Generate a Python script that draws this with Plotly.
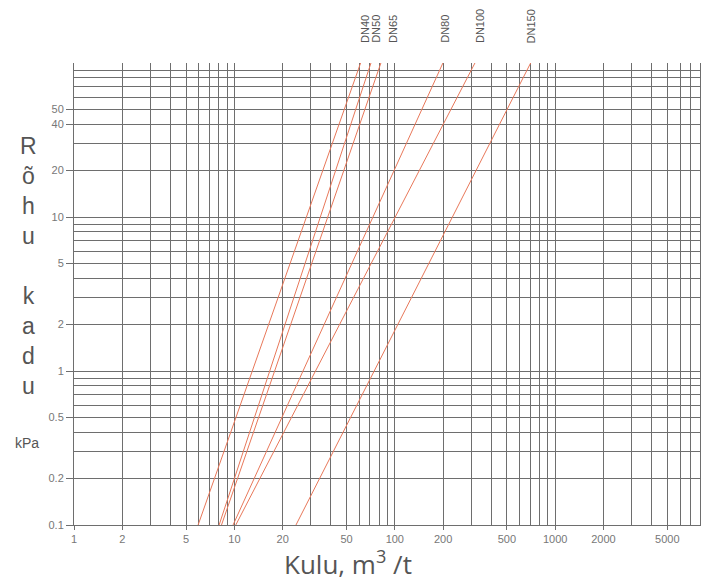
import math
import plotly.graph_objects as go

# ---- data ----
series_names = ["DN40", "DN50", "DN65", "DN80", "DN100", "DN150"]
flow_at_dp_low = [5.94, 8.03, 8.31, 9.81, 10.2, 24.2]      # m3/t at 0.1 kPa
flow_at_dp_high = [61.2, 71.0, 81.9, 199.5, 316.0, 703.0]  # m3/t at 100 kPa
dp_ends = [0.1, 100]

x_tick_vals = [1, 2, 5, 10, 20, 50, 100, 200, 500, 1000, 2000, 5000]
x_tick_text = ["1", "2", "5", "10", "20", "50", "100", "200", "500", "1000", "2000", "5000"]
y_tick_vals = [0.1, 0.2, 0.5, 1, 2, 5, 10, 20, 40, 50]
y_tick_text = ["0.1", "0.2", "0.5", "1", "2", "5", "10", "20", "40", "50"]

label_flow = [65.1, 76.2, 97.3, 205, 340, 711]  # where the DN labels sit

# ---- figure (page has an 8px body margin, so figure is 8px smaller) ----
OFF = 8
W, H = 709 - OFF, 583 - OFF
ML, MR, MT, MB = 74 - OFF, 0, 63 - OFF, 583 - 525
PW, PH = W - ML - MR, H - MT - MB

line_color = "#E8785A"
grid_color = "#6e6e6e"
text_gray = "#555555"
tick_gray = "#777777"

fig = go.Figure()
for name, q0, q1 in zip(series_names, flow_at_dp_low, flow_at_dp_high):
    fig.add_trace(go.Scatter(x=[q0, q1], y=dp_ends, mode="lines", name=name,
                             line=dict(color=line_color, width=1), showlegend=False,
                             hoverinfo="skip"))

x_minor = [m * 10 ** d for d in range(0, 4) for m in range(1, 10)]
y_minor = [round(m * 10 ** d, 4) for d in range(-1, 2) for m in range(1, 10)] + [100]

fig.update_xaxes(type="log", range=[0, (709 - 74) / 160.4],
                 tickvals=x_tick_vals, ticktext=x_tick_text,
                 ticks="outside", ticklen=4, tickcolor=grid_color,
                 tickfont=dict(family="Liberation Sans, Arial", size=11, color=tick_gray),
                 showgrid=True, gridcolor=grid_color, gridwidth=1,
                 minor=dict(tickvals=x_minor, showgrid=True, gridcolor=grid_color, gridwidth=1, ticklen=0),
                 showline=True, linecolor=grid_color, linewidth=1, zeroline=False)
fig.update_yaxes(type="log", range=[-1, 2],
                 tickvals=y_tick_vals, ticktext=y_tick_text,
                 ticks="outside", ticklen=7, tickcolor=grid_color,
                 tickfont=dict(family="Liberation Sans, Arial", size=11, color=tick_gray),
                 showgrid=True, gridcolor=grid_color, gridwidth=1,
                 minor=dict(tickvals=y_minor, showgrid=True, gridcolor=grid_color, gridwidth=1, ticklen=0),
                 showline=True, linecolor=grid_color, linewidth=1, zeroline=False)

def px_x(px):  # page pixel -> paper
    return (px - OFF - ML) / PW

def px_y(py):
    return (H - MB - (py - OFF)) / PH

annotations = []
# stacked y title
annotations.append(dict(text="R<br>õ<br>h<br>u",
                        xref="paper", yref="paper", x=px_x(28), y=px_y(191),
                        xanchor="center", yanchor="middle", showarrow=False,
                        font=dict(family="Liberation Sans, Arial", size=23, color=text_gray)))
annotations.append(dict(text="k<br>a<br>d<br>u",
                        xref="paper", yref="paper", x=px_x(28), y=px_y(341),
                        xanchor="center", yanchor="middle", showarrow=False,
                        font=dict(family="Liberation Sans, Arial", size=23, color=text_gray)))
annotations.append(dict(text="kPa", xref="paper", yref="paper", x=px_x(27), y=px_y(443),
                        xanchor="center", yanchor="middle", showarrow=False,
                        font=dict(family="Liberation Sans, Arial", size=14, color=text_gray)))
# x title
annotations.append(dict(text="Kulu, m<sup>3</sup> /t", xref="paper", yref="paper",
                        x=px_x(348), y=px_y(563), xanchor="center", yanchor="middle",
                        showarrow=False, borderpad=0,
                        font=dict(family="Open Sans, Liberation Sans", size=26, color=text_gray)))
# DN labels
for name, q in zip(series_names, label_flow):
    annotations.append(dict(text=name, xref="x", yref="paper", x=math.log10(q), y=px_y(45),
                            xanchor="center", yanchor="bottom", textangle=-90, showarrow=False,
                            font=dict(family="Liberation Sans, Arial", size=11, color=text_gray)))

fig.update_layout(width=W, height=H, margin=dict(l=ML, r=MR, t=MT, b=MB),
                  plot_bgcolor="white", paper_bgcolor="white",
                  annotations=annotations)

fig.write_html("out.html")
